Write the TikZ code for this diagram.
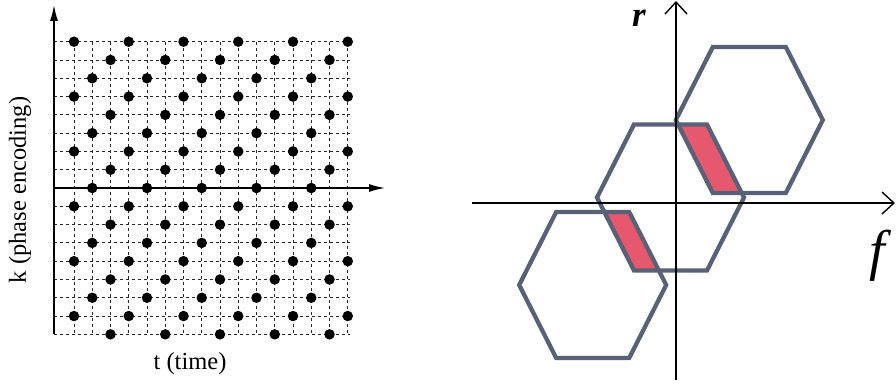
\documentclass[tikz,border=0pt]{standalone}
\usepackage{fontspec}
\setmainfont{LiberationSerif}[Extension=.ttf, UprightFont=*-Regular, BoldFont=*-Bold, ItalicFont=*-Italic, BoldItalicFont=*-BoldItalic]
\usetikzlibrary{arrows.meta}
\definecolor{hexgray}{RGB}{88,97,118}
\definecolor{overlapred}{RGB}{230,88,110}
\definecolor{griddash}{RGB}{40,40,40}
\newcommand\hexshape[2]{({#1-73.5},{#2}) -- ({#1-36.5},{#2-73}) -- ({#1+36.5},{#2-73}) -- ({#1+73.5},{#2}) -- ({#1+36.5},{#2+73}) -- ({#1-36.5},{#2+73}) -- cycle}
\tikzset{
  gridline/.style={griddash, line width=0.8pt, dash pattern=on 3pt off 3pt},
  sampledot/.style={circle, fill=black, inner sep=0pt, minimum size=10.5pt},
  leftaxis/.style={black, line width=1.4pt, -{Latex[length=16pt,width=8pt]}},
  rightaxis/.style={black, line width=1.4pt, -{Straight Barb[length=12pt,width=22pt,line width=1.4pt]}},
  hexline/.style={hexgray, line width=4.3pt, line join=miter},
  serlabel/.style={font=\fontsize{24.5}{29}\selectfont, inner sep=0pt}
}
\begin{document}
\begin{tikzpicture}[x=1pt,y=-1pt]
\useasboundingbox (0,0) rectangle (896,385);
% ---------- left panel ----------
\foreach \r in {0,...,16}{
  \draw[gridline] (54,{41.7+18.29*\r}) -- (350,{41.7+18.29*\r});
}
\foreach \c in {0,...,15}{
  \draw[gridline] ({74+18.25*\c},41.7) -- ({74+18.25*\c},334.3);
}
\foreach \r in {0,...,16}{
  \foreach \c in {0,...,15}{
    \pgfmathtruncatemacro{\m}{mod(\c+\r,3)}
    \ifnum\m=0
      \node[sampledot] (d-\c-\r) at ({74+18.25*\c},{41.7+18.29*\r}) {};
    \fi
  }
}
\coordinate (kbot) at (54,334.3);
\coordinate (ktop) at (54,5);
\coordinate (korig) at (54,188);
\coordinate (tend) at (385,188);
\draw[leftaxis] (kbot) -- (ktop);
\draw[leftaxis] (korig) -- (tend);
\node[serlabel, rotate=90] (klabel) at (20,190) {k (phase encoding)};
\node[serlabel] (tlabel) at (190,364) {t (time)};
% ---------- right panel ----------
\begin{scope}
  \clip \hexshape{670.5}{197.5};
  \fill[overlapred] \hexshape{749.3}{120};
  \fill[overlapred] \hexshape{592.7}{285};
\end{scope}
\draw[hexline] \hexshape{749.3}{120};
\draw[hexline] \hexshape{670.5}{197.5};
\draw[hexline] \hexshape{592.7}{285};
\coordinate (rbot) at (676,380);
\coordinate (rtop) at (676,1);
\coordinate (fleft) at (472,203);
\coordinate (fright) at (895,203);
\draw[rightaxis] (rbot) -- (rtop);
\draw[rightaxis] (fleft) -- (fright);
\node[inner sep=0pt, font=\fontsize{35}{35}\selectfont\bfseries\itshape, anchor=base] (rlabel) at (639,27) {r};
\node[inner sep=0pt, font=\fontsize{56}{56}\selectfont\itshape, anchor=base] (flabel) at (877,269) {f};
\end{tikzpicture}
\end{document}
